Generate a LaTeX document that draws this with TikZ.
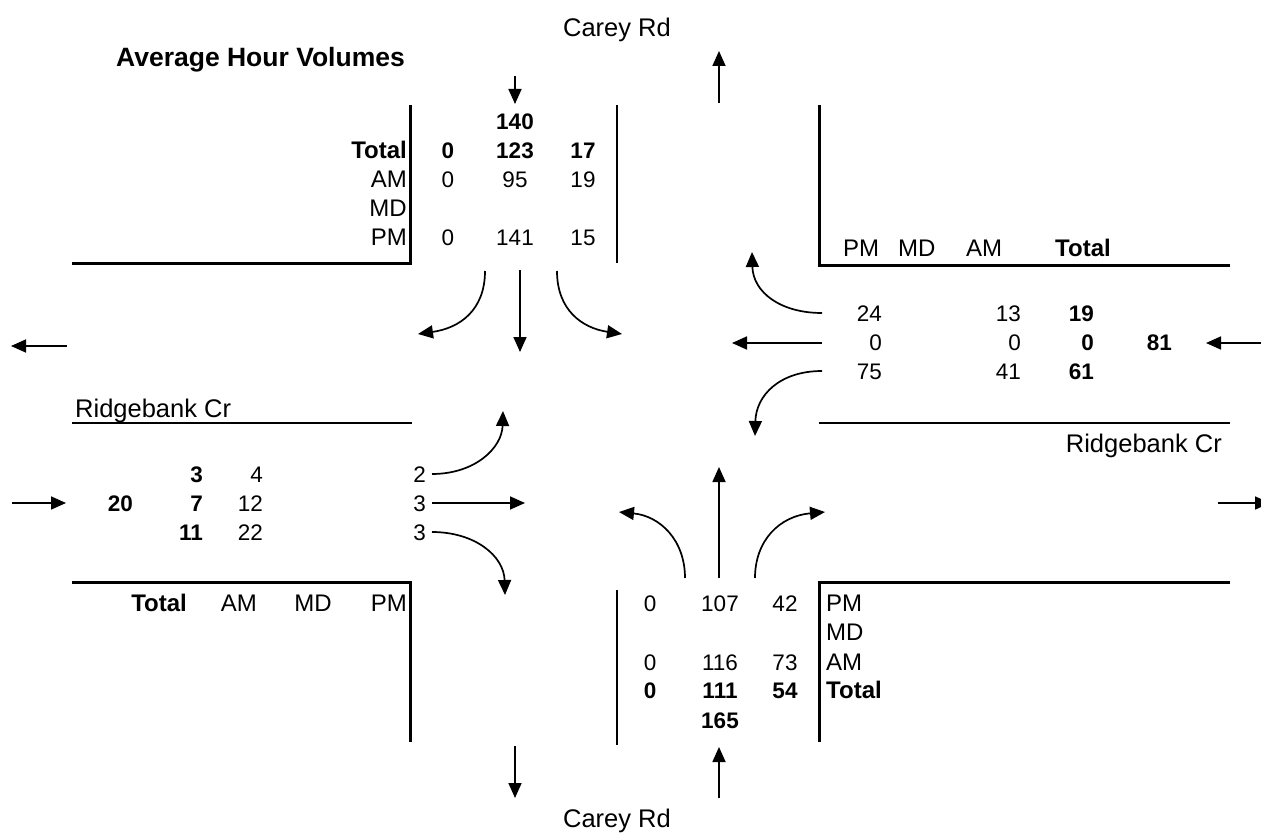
\documentclass[tikz,border=0pt]{standalone}
\usepackage{fontspec}
\setmainfont{Liberation Sans}
\usetikzlibrary{arrows.meta}
\begin{document}
\begin{tikzpicture}[x=1pt,y=-1pt,
  txt/.style={inner sep=0pt,font=\fontsize{22.5}{26}\selectfont},
  btxt/.style={inner sep=0pt,font=\fontsize{22.5}{26}\selectfont\bfseries},
  lbl/.style={inner sep=0pt,font=\fontsize{24}{28}\selectfont},
  blbl/.style={inner sep=0pt,font=\fontsize{24}{28}\selectfont\bfseries},
  road/.style={inner sep=0pt,font=\fontsize{25.5}{30}\selectfont},
  flow/.style={line width=1.7pt,-{Triangle[length=15pt,width=13pt]}},
  thickline/.style={line width=3pt},
  thinline/.style={line width=1.2pt}]
\useasboundingbox (0,0) rectangle (1261,837);
% titles and road names
\node[inner sep=0pt,font=\fontsize{26.5}{30}\selectfont\bfseries,anchor=base east] (title) at (405,67) {Average Hour Volumes};
\node[road,anchor=base] (careyN) at (617,37) {Carey Rd};
\node[road,anchor=base] (careyS) at (617,827) {Carey Rd};
\node[road,anchor=base west] (ridgeW) at (75,417) {Ridgebank Cr};
\node[road,anchor=base east] (ridgeE) at (1222,452) {Ridgebank Cr};
% curb lines
\coordinate (nwA) at (72,263); \coordinate (nwB) at (410,263); \coordinate (nwC) at (410,105);
\draw[thickline] (nwA) -- (nwB) -- (nwC);
\coordinate (nmA) at (617,105); \coordinate (nmB) at (617,263);
\draw[thinline] (nmA) -- (nmB);
\coordinate (neA) at (819,105); \coordinate (neB) at (819,265); \coordinate (neC) at (1230,265);
\draw[thickline] (neA) -- (neB) -- (neC);
\coordinate (wlA) at (72,423); \coordinate (wlB) at (412,423);
\draw[thinline] (wlA) -- (wlB);
\coordinate (elA) at (819,423); \coordinate (elB) at (1230,423);
\draw[thinline] (elA) -- (elB);
\coordinate (swA) at (72,582); \coordinate (swB) at (410,582); \coordinate (swC) at (410,742);
\draw[thickline] (swA) -- (swB) -- (swC);
\coordinate (smA) at (617,590); \coordinate (smB) at (617,745);
\draw[thinline] (smA) -- (smB);
\coordinate (seA) at (819,742); \coordinate (seB) at (819,582); \coordinate (seC) at (1230,582);
\draw[thickline] (seA) -- (seB) -- (seC);
% north approach table
\node[btxt,anchor=base] (n140) at (515,130) {140};
\node[blbl,anchor=base east] (nTot) at (407,159) {Total};
\node[lbl,anchor=base east] (nAM) at (407,188) {AM};
\node[lbl,anchor=base east] (nMD) at (407,217) {MD};
\node[lbl,anchor=base east] (nPM) at (407,246) {PM};
\node[btxt,anchor=base] (nT1) at (448,159) {0};
\node[btxt,anchor=base] (nT2) at (515,159) {123};
\node[btxt,anchor=base] (nT3) at (583,159) {17};
\node[txt,anchor=base] (nA1) at (448,188) {0};
\node[txt,anchor=base] (nA2) at (515,188) {95};
\node[txt,anchor=base] (nA3) at (583,188) {19};
\node[txt,anchor=base] (nP1) at (448,246) {0};
\node[txt,anchor=base] (nP2) at (515,246) {141};
\node[txt,anchor=base] (nP3) at (583,246) {15};
% east approach headers
\node[lbl,anchor=base west] (ePMh) at (843,256) {PM};
\node[lbl,anchor=base west] (eMDh) at (898,256) {MD};
\node[lbl,anchor=base west] (eAMh) at (966,256) {AM};
\node[blbl,anchor=base west] (eToth) at (1055,256) {Total};
% east approach values
\node[txt,anchor=base east] (eP1) at (882,321) {24};
\node[txt,anchor=base east] (eA1) at (1021,321) {13};
\node[btxt,anchor=base east] (eT1) at (1094,321) {19};
\node[txt,anchor=base east] (eP2) at (882,350) {0};
\node[txt,anchor=base east] (eA2) at (1021,350) {0};
\node[btxt,anchor=base east] (eT2) at (1094,350) {0};
\node[btxt,anchor=base east] (eSum) at (1172,350) {81};
\node[txt,anchor=base east] (eP3) at (882,379) {75};
\node[txt,anchor=base east] (eA3) at (1021,379) {41};
\node[btxt,anchor=base east] (eT3) at (1094,379) {61};
% west approach values
\node[btxt,anchor=base east] (wT1) at (203,482) {3};
\node[txt,anchor=base east] (wA1) at (263,482) {4};
\node[txt,anchor=base east] (wP1) at (426,482) {2};
\node[btxt,anchor=base east] (wSum) at (133,511) {20};
\node[btxt,anchor=base east] (wT2) at (203,511) {7};
\node[txt,anchor=base east] (wA2) at (263,511) {12};
\node[txt,anchor=base east] (wP2) at (426,511) {3};
\node[btxt,anchor=base east] (wT3) at (203,540) {11};
\node[txt,anchor=base east] (wA3) at (263,540) {22};
\node[txt,anchor=base east] (wP3) at (426,540) {3};
% west approach headers
\node[blbl,anchor=base east] (wToth) at (187,611) {Total};
\node[lbl,anchor=base east] (wAMh) at (257,611) {AM};
\node[lbl,anchor=base east] (wMDh) at (332,611) {MD};
\node[lbl,anchor=base east] (wPMh) at (407,611) {PM};
% south approach table
\node[lbl,anchor=base west] (sPM) at (826,611) {PM};
\node[lbl,anchor=base west] (sMD) at (826,640) {MD};
\node[lbl,anchor=base west] (sAM) at (826,670) {AM};
\node[blbl,anchor=base west] (sTot) at (826,698) {Total};
\node[txt,anchor=base] (sP1) at (650,611) {0};
\node[txt,anchor=base] (sP2) at (720,611) {107};
\node[txt,anchor=base] (sP3) at (785,611) {42};
\node[txt,anchor=base] (sA1) at (650,670) {0};
\node[txt,anchor=base] (sA2) at (720,670) {116};
\node[txt,anchor=base] (sA3) at (785,670) {73};
\node[btxt,anchor=base] (sT1) at (650,698) {0};
\node[btxt,anchor=base] (sT2) at (720,698) {111};
\node[btxt,anchor=base] (sT3) at (785,698) {54};
\node[btxt,anchor=base] (s165) at (720,728) {165};
% approach / departure arrows
\coordinate (nInA) at (515,76);  \coordinate (nInB) at (515,104);
\draw[flow] (nInA) -- (nInB);
\coordinate (nOutA) at (719,103); \coordinate (nOutB) at (719,51);
\draw[flow] (nOutA) -- (nOutB);
\coordinate (sOutA) at (515,746); \coordinate (sOutB) at (515,798);
\draw[flow] (sOutA) -- (sOutB);
\coordinate (sInA) at (719,798); \coordinate (sInB) at (719,747);
\draw[flow] (sInA) -- (sInB);
\coordinate (wOutA) at (67,346); \coordinate (wOutB) at (11,346);
\draw[flow] (wOutA) -- (wOutB);
\coordinate (wInA) at (12,503); \coordinate (wInB) at (66,503);
\draw[flow] (wInA) -- (wInB);
\coordinate (eInA) at (1262,343); \coordinate (eInB) at (1206,343);
\draw[flow] (eInA) -- (eInB);
\coordinate (eOutA) at (1218,503); \coordinate (eOutB) at (1270,503);
\draw[flow] (eOutA) -- (eOutB);
% southbound movements
\coordinate (sbL0) at (485,271); \coordinate (sbL1) at (418,334);
\draw[flow] (sbL0) .. controls (485,310) and (460,328) .. (sbL1);
\coordinate (sbT0) at (520,270); \coordinate (sbT1) at (520,352);
\draw[flow] (sbT0) -- (sbT1);
\coordinate (sbR0) at (557,271); \coordinate (sbR1) at (622,334);
\draw[flow] (sbR0) .. controls (557,310) and (582,328) .. (sbR1);
% westbound movements
\coordinate (wbR0) at (822,313); \coordinate (wbR1) at (752,252);
\draw[flow] (wbR0) .. controls (780,313) and (753,292) .. (wbR1);
\coordinate (wbT0) at (822,343); \coordinate (wbT1) at (732,343);
\draw[flow] (wbT0) -- (wbT1);
\coordinate (wbL0) at (822,371); \coordinate (wbL1) at (755,436);
\draw[flow] (wbL0) .. controls (780,371) and (756,395) .. (wbL1);
% eastbound movements
\coordinate (ebL0) at (432,474); \coordinate (ebL1) at (503,411);
\draw[flow] (ebL0) .. controls (475,474) and (502,448) .. (ebL1);
\coordinate (ebT0) at (432,503); \coordinate (ebT1) at (525,503);
\draw[flow] (ebT0) -- (ebT1);
\coordinate (ebR0) at (432,532); \coordinate (ebR1) at (505,595);
\draw[flow] (ebR0) .. controls (475,532) and (504,556) .. (ebR1);
% northbound movements
\coordinate (nbL0) at (685,578); \coordinate (nbL1) at (619,512);
\draw[flow] (nbL0) .. controls (685,540) and (660,516) .. (nbL1);
\coordinate (nbT0) at (719,578); \coordinate (nbT1) at (719,467);
\draw[flow] (nbT0) -- (nbT1);
\coordinate (nbR0) at (755,578); \coordinate (nbR1) at (825,512);
\draw[flow] (nbR0) .. controls (755,540) and (780,516) .. (nbR1);
\end{tikzpicture}
\end{document}
